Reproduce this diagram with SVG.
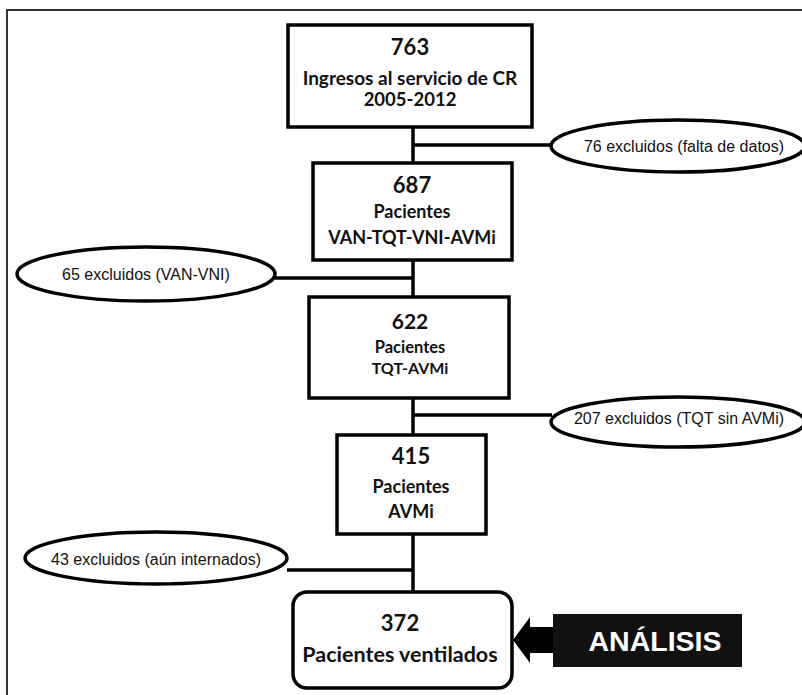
<svg xmlns="http://www.w3.org/2000/svg" width="802" height="695" viewBox="0 0 802 695">
<style>
.box{fill:#fff;stroke:#000;stroke-width:3.5}
.ell{fill:#fff;stroke:#000;stroke-width:3.5}
.ln{stroke:#000;stroke-width:3.5;fill:none}
.t{font-family:Lato,"Open Sans",sans-serif;font-weight:bold;fill:#111;text-anchor:middle}
.e{font-family:"Liberation Sans",Arial,sans-serif;font-size:16px;fill:#111;text-anchor:middle}
</style>
<rect x="0" y="0" width="802" height="695" fill="#fff"/>
<rect x="7" y="10" width="820" height="720" fill="none" stroke="#333" stroke-width="2"/>
<g id="connectors">
<line class="ln" x1="413" y1="127" x2="413" y2="163"/>
<line class="ln" x1="413" y1="145" x2="552" y2="145"/>
<line class="ln" x1="413" y1="260" x2="413" y2="297"/>
<line class="ln" x1="275" y1="278" x2="413" y2="278"/>
<line class="ln" x1="413" y1="398" x2="413" y2="435"/>
<line class="ln" x1="413" y1="415" x2="552" y2="415"/>
<line class="ln" x1="413" y1="534" x2="413" y2="592"/>
<line class="ln" x1="287" y1="570" x2="413" y2="570"/>
<polygon points="553,627 530,627 530,617 513,640 530,663 530,653 553,653" fill="#000"/>
</g>
<g id="n763">
<rect class="box" x="288" y="25" width="244" height="102"/>
<text class="t" x="410" y="55" font-size="22">763</text>
<text class="t" x="410" y="85" font-size="19">Ingresos al servicio de CR</text>
<text class="t" x="410" y="106" font-size="18.5">2005-2012</text>
</g>
<g id="e76">
<ellipse class="ell" cx="678" cy="146" rx="127" ry="26"/>
<text class="e" x="684" y="152">76 excluidos (falta de datos)</text>
</g>
<g id="n687">
<rect class="box" x="313" y="163" width="199" height="97"/>
<text class="t" x="412" y="193" font-size="22">687</text>
<text class="t" x="412" y="218" font-size="18">Pacientes</text>
<text class="t" x="412" y="244" font-size="18">VAN-TQT-VNI-AVMi</text>
</g>
<g id="e65">
<ellipse class="ell" cx="146" cy="274" rx="129" ry="27"/>
<text class="e" x="146" y="280">65 excluidos (VAN-VNI)</text>
</g>
<g id="n622">
<rect class="box" x="309" y="297" width="200" height="101"/>
<text class="t" x="410" y="329" font-size="21">622</text>
<text class="t" x="410" y="353" font-size="16.5">Pacientes</text>
<text class="t" x="410" y="374" font-size="16">TQT-AVMi</text>
</g>
<g id="e207">
<ellipse class="ell" cx="678" cy="422" rx="127" ry="25"/>
<text class="e" x="679" y="424">207 excluidos (TQT sin AVMi)</text>
</g>
<g id="n415">
<rect class="box" x="337" y="435" width="149" height="99"/>
<text class="t" x="411" y="464" font-size="22">415</text>
<text class="t" x="411" y="493" font-size="18">Pacientes</text>
<text class="t" x="411" y="518" font-size="18">AVMi</text>
</g>
<g id="e43">
<ellipse class="ell" cx="156" cy="558" rx="131" ry="26"/>
<text class="e" x="156" y="565">43 excluidos (aún internados)</text>
</g>
<g id="n372">
<rect class="box" x="293" y="592" width="219" height="96" rx="14"/>
<text class="t" x="400" y="631" font-size="22">372</text>
<text class="t" x="400" y="662" font-size="21.5">Pacientes ventilados</text>
</g>
<g id="analisis">
<rect x="553" y="614" width="189" height="53" fill="#111"/>
<text x="655" y="651" font-family="Liberation Sans,Arial,sans-serif" font-weight="bold" font-size="28.5" fill="#fff" text-anchor="middle">ANÁLISIS</text>
</g>
</svg>
